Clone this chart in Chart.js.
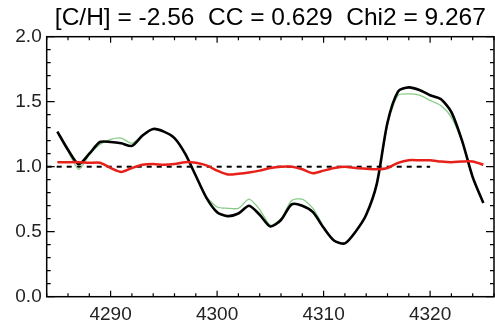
<!DOCTYPE html>
<html>
<head>
<meta charset="utf-8">
<script src="https://cdn.jsdelivr.net/npm/chart.js@4"></script>
<style>
  body { margin: 0; background: #fff; }
  #wrap { width: 495px; height: 328px; }
</style>
</head>
<body>
<div id="wrap"><canvas id="spec"></canvas></div>
<script>
// wavelength grid (Angstrom)
let wave = [4285, 4286, 4287, 4288, 4289, 4290, 4291, 4292, 4293, 4294,
  4295, 4296, 4297, 4298, 4299, 4300, 4301, 4302, 4303, 4304,
  4305, 4306, 4307, 4308, 4309, 4310, 4311, 4312, 4313, 4314,
  4315, 4316, 4317, 4318, 4319, 4320, 4321, 4322, 4323, 4324, 4325];

// observed spectrum (black)
let observed = [1.27, 1.13, 1.02, 1.10, 1.19, 1.19, 1.18, 1.16, 1.24, 1.29,
  1.27, 1.22, 1.10, 0.93, 0.76, 0.65, 0.62, 0.64, 0.70, 0.63,
  0.54, 0.59, 0.71, 0.70, 0.65, 0.53, 0.43, 0.41, 0.50, 0.63,
  0.87, 1.34, 1.58, 1.61, 1.59, 1.55, 1.52, 1.42, 1.20, 0.92, 0.72];

// synthetic fit (green)
let synthetic = [1.27, 1.12, 0.98, 1.09, 1.17, 1.21, 1.22, 1.18, 1.24, 1.29,
  1.27, 1.22, 1.10, 0.93, 0.77, 0.69, 0.68, 0.68, 0.75, 0.67,
  0.55, 0.60, 0.74, 0.75, 0.68, 0.54, 0.43, 0.41, 0.50, 0.63,
  0.87, 1.32, 1.55, 1.56, 1.55, 1.51, 1.47, 1.38, 1.19, 0.91, 0.72];

// ratio observed / synthetic (red)
let ratio = [1.035, 1.035, 1.035, 1.03, 1.03, 0.99, 0.96, 0.99, 1.015, 1.02,
  1.015, 1.02, 1.035, 1.03, 1.01, 0.97, 0.94, 0.945, 0.955, 0.97,
  0.99, 1.0, 1.0, 0.98, 0.95, 0.97, 0.99, 1.0, 0.99, 0.985,
  0.98, 0.99, 1.03, 1.05, 1.05, 1.05, 1.04, 1.035, 1.04, 1.04, 1.015];

// dotted reference at 1.0
let refX = [4284, 4320];
let refY = [1, 1];

// axis ticks
let xLabels = [4290, 4300, 4310, 4320];
let xMinor = [4284, 4286, 4288, 4290, 4292, 4294, 4296, 4298, 4300, 4302, 4304,
  4306, 4308, 4310, 4312, 4314, 4316, 4318, 4320, 4322, 4324, 4326];
let yLabels = [0, 0.5, 1, 1.5, 2];
let yMinor = [0, 0.1, 0.2, 0.3, 0.4, 0.5, 0.6, 0.7, 0.8, 0.9, 1,
  1.1, 1.2, 1.3, 1.4, 1.5, 1.6, 1.7, 1.8, 1.9, 2];

function toPoints(xs, ys) {
  return xs.map((x, i) => ({ x: x, y: ys[i] }));
}

// frame with inward ticks on all four sides
const framePlugin = {
  id: "frame",
  afterDraw(chart) {
    const ctx = chart.ctx;
    const a = chart.chartArea;
    const xs = chart.scales.x;
    const ys = chart.scales.y;
    ctx.save();
    ctx.strokeStyle = "#000";
    ctx.lineWidth = 1.5;
    ctx.strokeRect(a.left, a.top, a.right - a.left, a.bottom - a.top);
    ctx.beginPath();
    for (let v of xMinor) {
      let px = xs.getPixelForValue(v);
      let len = v % 10 === 0 ? 6 : 3.5;
      ctx.moveTo(px, a.bottom);
      ctx.lineTo(px, a.bottom - len);
      ctx.moveTo(px, a.top);
      ctx.lineTo(px, a.top + len);
    }
    for (let v of yMinor) {
      let py = ys.getPixelForValue(v);
      let len = yLabels.includes(v) ? 8 : 4;
      ctx.moveTo(a.left, py);
      ctx.lineTo(a.left + len, py);
      ctx.moveTo(a.right, py);
      ctx.lineTo(a.right - len, py);
    }
    ctx.lineWidth = 1.2;
    ctx.stroke();
    ctx.restore();
  },
};

const tickFont = { family: "'Liberation Sans', Arial, sans-serif", size: 19 };

const specChart = new Chart(document.getElementById("spec"), {
  type: "line",
  data: {
    datasets: [
      {
        data: toPoints(wave, ratio),
        borderColor: "#e8201a",
        borderWidth: 2.5,
        order: 0,
      },
      {
        data: toPoints(wave, observed),
        borderColor: "#000",
        borderWidth: 2.6,
        order: 1,
      },
      {
        data: toPoints(wave, synthetic),
        borderColor: "#86cc86",
        borderWidth: 1.3,
        order: 2,
      },
      {
        data: toPoints(refX, refY),
        borderColor: "#000",
        borderWidth: 2,
        borderDash: [5, 5],
        tension: 0,
        order: 3,
      },
    ],
  },
  options: {
    responsive: true,
    maintainAspectRatio: false,
    animation: false,
    layout: { padding: { left: 0, right: 1, top: 0, bottom: 0 } },
    elements: {
      point: { radius: 0 },
      line: { tension: 0.25, fill: false },
    },
    plugins: {
      legend: { display: false },
      tooltip: { enabled: false },
      title: {
        display: true,
        fullSize: false,
        text: "[C/H] = -2.56  CC = 0.629  Chi2 = 9.267",
        color: "#000",
        font: { family: "'Liberation Sans', Arial, sans-serif", size: 24.5, weight: "normal", lineHeight: 1 },
        padding: { top: 6, bottom: 6.2 },
      },
    },
    scales: {
      x: {
        type: "linear",
        min: 4284,
        max: 4326,
        grid: { display: false, drawTicks: false },
        border: { display: false },
        afterBuildTicks: (scale) => {
          scale.ticks = xLabels.map((v) => ({ value: v }));
        },
        afterFit: (scale) => {
          scale.height = 31.3;
        },
        ticks: {
          autoSkip: false,
          maxRotation: 0,
          padding: 7,
          color: "#222",
          font: tickFont,
          callback: (v) => String(v),
        },
      },
      y: {
        min: 0,
        max: 2,
        grid: { display: false, drawTicks: false },
        border: { display: false },
        afterBuildTicks: (scale) => {
          scale.ticks = yLabels.map((v) => ({ value: v }));
        },
        afterFit: (scale) => {
          scale.width = 46.7;
        },
        ticks: {
          padding: 5,
          color: "#222",
          font: tickFont,
          callback: (v) => v.toFixed(1),
        },
      },
    },
  },
  plugins: [framePlugin],
});
</script>
</body>
</html>
